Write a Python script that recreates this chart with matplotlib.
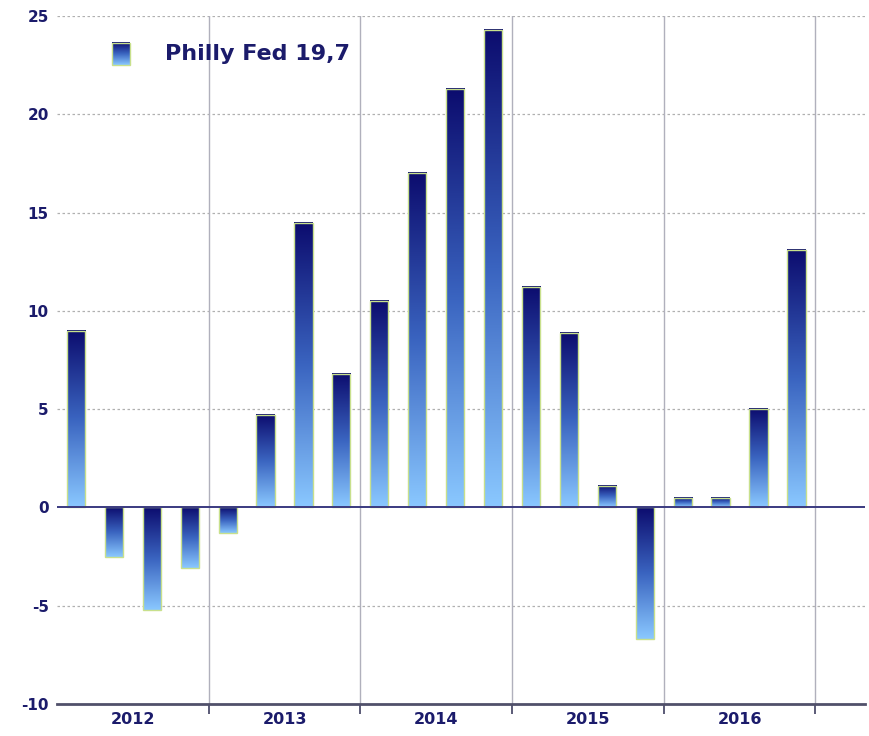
import numpy as np
import matplotlib
matplotlib.use("Agg")
import matplotlib.pyplot as plt
from matplotlib.colors import LinearSegmentedColormap

values = [9.0, -2.5, -5.2, -3.1, -1.3, 4.7, 14.5, 6.8, 10.5, 17.0, 21.3, 24.3,
          11.2, 8.9, 1.1, -6.7, 0.5, 0.5, 5.0, 13.1]
years = ["2012", "2013", "2014", "2015", "2016"]
yticks = [-10, -5, 0, 5, 10, 15, 20, 25]
legend_label = "Philly Fed 19,7"

navy = "#1b1b6b"
cmap = LinearSegmentedColormap.from_list("g", ["#8ac8ff", "#3a64c0", "#0c0c6e"])
grad = np.linspace(0, 1, 256).reshape(-1, 1)

fig = plt.figure(figsize=(8.69, 7.36), dpi=100)
ax = fig.add_axes([0.0656, 0.0435, 0.9294, 0.9345])

x = np.arange(len(values))
w = 0.48
for xi, v in zip(x, values):
    lo, hi = min(0, v), max(0, v)
    ax.imshow(grad, cmap=cmap, origin="lower", aspect="auto",
              extent=[xi - w / 2, xi + w / 2, lo, hi], zorder=3, interpolation="bilinear")
ax.bar(x, values, width=w, facecolor="none", edgecolor="#c8e08c", linewidth=1.0, zorder=4)

# horizontal grid
for yv in yticks[1:]:
    if yv == 0:
        continue
    ax.axhline(yv, color="#b0b0b0", linestyle=(0, (2, 2)), linewidth=0.9, zorder=1)
ax.axhline(0, color="#3a3a80", linewidth=1.4, zorder=5)

# year dividers
n_years = len(years)
for k in range(n_years):
    xv = 4 * k + 3.5
    ax.axvline(xv, color="#b0b0bc", linewidth=1.0, zorder=1)

ax.set_yticks(yticks)
ax.set_yticklabels([str(t) for t in yticks], fontsize=11, fontweight="bold", color=navy)
ax.set_xticks([4 * k + 3.5 for k in range(n_years)])
ax.set_xticklabels([])
ax.set_xticks([4 * k + 1.5 for k in range(n_years)], minor=True)
ax.set_xticklabels(years, minor=True, fontsize=11.5, fontweight="bold", color=navy)
ax.tick_params(axis="x", which="major", length=7, width=1.2, color="#404060", direction="out")
ax.tick_params(axis="x", which="minor", length=0, pad=6)
ax.tick_params(axis="y", length=0, pad=6)

for s in ["top", "right", "left"]:
    ax.spines[s].set_visible(False)
ax.spines["bottom"].set_color("#50506a")
ax.spines["bottom"].set_linewidth(2.0)

# legend
lx0, ly0, lw, lh = 1.19, 22.5, 0.47, 1.12
ax.imshow(grad, cmap=cmap, origin="lower", aspect="auto",
          extent=[lx0 - lw / 2, lx0 + lw / 2, ly0, ly0 + lh], zorder=6)
ax.add_patch(plt.Rectangle((lx0 - lw / 2, ly0), lw, lh, facecolor="none",
                           edgecolor="#c8e08c", linewidth=1.0, zorder=7))
ax.text(2.35, ly0 + lh / 2, legend_label, fontsize=16, fontweight="bold", color=navy,
        va="center", ha="left", zorder=7)
ax.set_xlim(-0.5, 20.8)
ax.set_ylim(-10, 25)

fig.savefig("out.png", dpi=100)
